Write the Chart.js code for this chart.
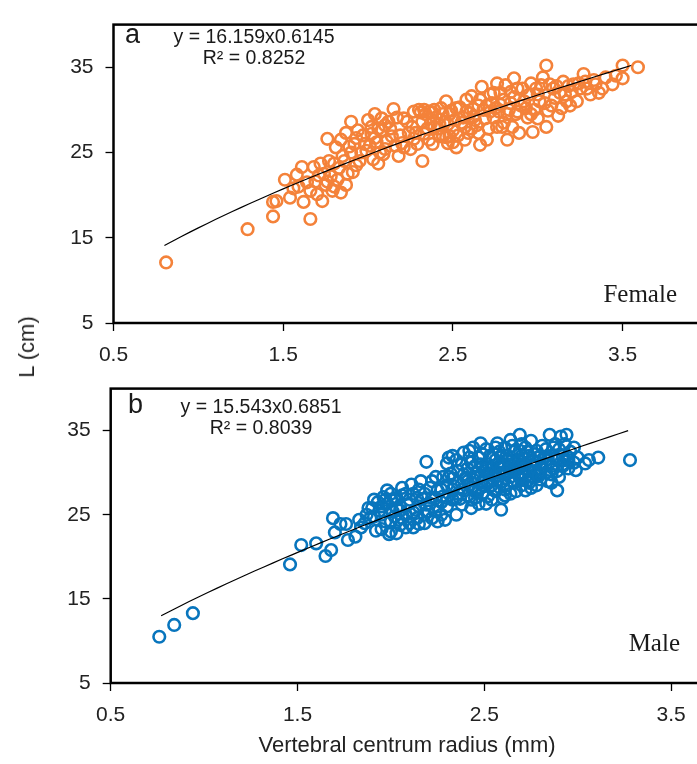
<!DOCTYPE html>
<html>
<head>
<meta charset="utf-8">
<script src="https://cdn.jsdelivr.net/npm/chart.js@4.4.1/dist/chart.umd.min.js"></script>
<style>
  html, body { margin: 0; padding: 0; background: #fff; }
  body { width: 697px; height: 764px; overflow: hidden; position: relative; font-family: "Liberation Sans", Arial, sans-serif; }
  .panel { position: absolute; left: 0; }
  #topPanel { top: 0; }
  #botPanel { top: 364px; }
  .ytitle { position: absolute; left: 27px; top: 347px; transform: translate(-50%, -50%) rotate(-90deg); font-size: 22px; color: #222; white-space: nowrap; }
  .xtitle { position: absolute; left: 407px; top: 745px; transform: translate(-50%, -50%); font-size: 22px; color: #222; white-space: nowrap; }
</style>
</head>
<body>
<canvas id="topPanel" class="panel" width="720" height="364"></canvas>
<canvas id="botPanel" class="panel" width="780" height="400"></canvas>
<div class="ytitle">L (cm)</div>
<div class="xtitle">Vertebral centrum radius (mm)</div>
<script>
// axis ticks
const xTicks = [0.5, 1.5, 2.5, 3.5];
const yTicks = [5, 15, 25, 35];

// power fits  y = a * x^b  (a, b)
const femaleFit = [16.159, 0.6145];
const maleFit = [15.543, 0.6851];
const femaleFitRange = [0.80, 3.55];
const maleFitRange = [0.77, 3.27];

// [radius mm, length cm]
const femalePoints = [
    [0.81, 12.1], [1.29, 16.0], [1.44, 17.5], [1.66, 17.2], [1.44, 19.2], [1.46, 19.3],
    [1.51, 21.8], [1.54, 19.7], [1.56, 20.8], [1.58, 22.4], [1.61, 23.3], [1.62, 19.2],
    [1.66, 20.5], [1.68, 23.3], [1.72, 23.7], [1.73, 19.3], [1.75, 21.2], [1.78, 22.2],
    [1.80, 23.7], [1.82, 21.8], [1.84, 20.3], [1.85, 24.6], [1.87, 21.2], [1.89, 25.7],
    [1.90, 28.6], [1.91, 22.7], [1.93, 26.7], [1.94, 27.6], [1.96, 25.0], [1.84, 26.5],
    [1.87, 27.3], [1.76, 21.6], [1.70, 20.1], [1.79, 20.5], [1.76, 26.6],
    [2.00, 28.8], [2.04, 29.5], [2.04, 26.7], [2.06, 23.7], [2.08, 27.6], [2.10, 25.4],
    [2.15, 30.1], [2.14, 26.9], [2.17, 29.1], [2.18, 24.6], [2.20, 26.1], [2.23, 28.6],
    [2.25, 25.4], [2.28, 27.3], [2.31, 29.7], [2.32, 24.0], [2.34, 29.5], [2.36, 26.5],
    [2.38, 29.7], [2.39, 28.0], [2.42, 26.9], [2.45, 28.6], [2.46, 31.0], [2.47, 26.1],
    [2.49, 29.9], [2.50, 27.6], [2.52, 25.6], [2.56, 29.1], [2.58, 31.2], [2.59, 27.3],
    [2.62, 30.1], [2.64, 28.2], [2.66, 25.9], [2.67, 32.7], [2.54, 30.3], [2.40, 29.1],
    [2.48, 26.9], [2.32, 28.6], [2.24, 27.3], [2.12, 28.6], [2.06, 27.8], [2.10, 28.2],
    [2.72, 31.8], [2.74, 29.1], [2.76, 33.1], [2.78, 30.6], [2.79, 28.0], [2.82, 26.5],
    [2.84, 32.1], [2.86, 33.7], [2.87, 29.5], [2.89, 27.3], [2.92, 31.0], [2.94, 29.1],
    [2.96, 33.1], [2.97, 27.4], [3.00, 31.8], [3.03, 33.8], [3.05, 35.2], [3.05, 28.0],
    [3.06, 29.9], [3.09, 32.5], [3.12, 29.3], [3.15, 33.3], [3.17, 31.0], [3.20, 32.1],
    [3.23, 31.0], [3.27, 34.2], [3.29, 32.5], [3.31, 31.8], [3.38, 32.5], [3.40, 33.8],
    [3.50, 35.2], [3.50, 33.7], [3.59, 35.0], [3.24, 33.1], [3.10, 31.4], [3.02, 32.9],
    [2.88, 32.5], [2.81, 32.9], [2.70, 30.5], [2.76, 28.0], [2.61, 31.6],
    [3.33, 33.5], [3.36, 32.0], [3.44, 33.0], [3.46, 34.0], [3.28, 33.3],
    [1.98, 26.0], [2.02, 27.2], [2.07, 25.0], [2.11, 26.3], [2.19, 27.0], [2.26, 28.0],
    [2.29, 26.0], [2.33, 27.2], [2.37, 28.4], [2.41, 27.8], [2.44, 29.5], [2.47, 28.3],
    [2.51, 28.8], [2.53, 27.0], [2.57, 28.0], [2.60, 29.6], [2.63, 28.8], [2.65, 30.5],
    [2.69, 29.0], [2.71, 27.8], [2.73, 30.8], [2.77, 29.8], [2.80, 31.2], [2.83, 30.0],
    [2.86, 31.5], [2.90, 30.5], [2.95, 31.8], [2.98, 30.0], [3.01, 31.0], [3.08, 30.5],
    [3.13, 32.0], [3.18, 32.8], [1.83, 23.2], [1.86, 24.0], [1.90, 25.0], [1.95, 24.0],
    [1.99, 25.2], [2.03, 24.2], [2.09, 24.8], [1.77, 24.0], [1.81, 25.6], [1.88, 22.5],
    [1.71, 22.3], [1.64, 21.5], [1.59, 21.0],
    [2.21, 29.0], [2.27, 29.8], [2.30, 30.0], [2.33, 30.0], [2.36, 29.8], [2.39, 30.0],
    [2.43, 30.2], [2.35, 27.8], [2.38, 26.0], [2.42, 28.3], [2.44, 27.0], [2.46, 26.8],
    [2.48, 29.5], [2.50, 26.2], [2.52, 30.2], [2.55, 28.5], [2.57, 26.5], [2.58, 29.8],
    [2.61, 27.8], [2.62, 29.2], [2.65, 27.3], [2.66, 31.2], [2.68, 30.0], [2.70, 26.5],
    [2.72, 29.8], [2.74, 32.0], [2.75, 30.2], [2.78, 32.0], [2.80, 28.5], [2.82, 29.5],
    [2.84, 30.8], [2.85, 28.0], [2.88, 29.8], [2.91, 32.5], [2.93, 30.2], [2.96, 29.5],
    [2.99, 32.5], [3.00, 29.0], [3.04, 30.8], [3.07, 33.0], [3.11, 32.8], [3.14, 30.2],
    [3.16, 31.8], [3.19, 30.5], [3.21, 33.0], [3.25, 32.5], [3.34, 33.0], [1.92, 26.0],
    [1.97, 27.0], [2.01, 25.8], [2.05, 26.2], [2.13, 27.8], [2.16, 25.8], [2.21, 25.6],
    [2.27, 26.6], [1.74, 22.5], [1.69, 21.6], [1.80, 21.0], [1.93, 23.5], [2.02, 28.0],
    [2.08, 29.0]
];

const malePoints = [
    [0.76, 10.5], [0.84, 11.9], [0.94, 13.3],
    [1.46, 19.1], [1.52, 21.4], [1.60, 21.6], [1.65, 20.1], [1.68, 20.8], [1.69, 24.6],
    [1.70, 22.9], [1.73, 23.9], [1.76, 23.9], [1.77, 22.0], [1.81, 22.4], [1.83, 24.4],
    [1.87, 25.0], [1.90, 25.8], [1.92, 23.1], [1.93, 26.5], [1.96, 27.1], [1.98, 27.9],
    [1.99, 22.7], [2.01, 25.4], [2.04, 24.4], [2.06, 27.3], [2.08, 23.5], [2.11, 28.6],
    [2.13, 25.6], [2.15, 23.9], [2.17, 26.9], [2.19, 31.3], [2.20, 25.4], [2.22, 24.6],
    [2.25, 27.9], [2.27, 26.5], [2.29, 24.4], [2.30, 31.1], [2.32, 29.9], [2.33, 32.0],
    [2.34, 28.4], [2.35, 25.0], [2.37, 26.9], [2.40, 29.4], [2.42, 32.6], [2.43, 25.8],
    [2.45, 27.9], [2.48, 33.5], [2.49, 30.7], [2.51, 26.3], [2.52, 28.8], [2.54, 31.8],
    [2.56, 33.0], [2.59, 25.6], [2.60, 29.9], [2.61, 27.3], [2.64, 33.9], [2.65, 31.5],
    [2.69, 34.5], [2.70, 33.4], [2.70, 29.2], [2.72, 27.9], [2.75, 30.9], [2.78, 32.6],
    [2.80, 29.9], [2.82, 31.8], [2.85, 34.5], [2.86, 28.8], [2.88, 33.4], [2.89, 27.9],
    [2.91, 34.3], [2.94, 34.5], [2.95, 31.5], [2.98, 33.0], [2.99, 30.3], [3.04, 31.1],
    [3.06, 31.5], [3.11, 31.8], [3.28, 31.5],
    [1.86, 24.0], [1.88, 25.8], [1.91, 24.8], [1.94, 25.5], [1.97, 24.2], [1.98, 26.3],
    [2.02, 26.8], [2.05, 25.5], [1.95, 23.3], [2.00, 23.0], [2.03, 22.8],
    [2.30, 27.0], [2.30, 28.5], [2.30, 26.0], [2.33, 28.0], [2.33, 29.3], [2.33, 26.8],
    [2.36, 27.5], [2.36, 30.2], [2.36, 28.8], [2.38, 26.2], [2.38, 28.0], [2.38, 31.0],
    [2.41, 27.3], [2.41, 29.0], [2.41, 30.5], [2.43, 28.2], [2.43, 31.2], [2.43, 26.8],
    [2.45, 29.5], [2.45, 30.8], [2.45, 27.0], [2.47, 28.0], [2.47, 31.8], [2.47, 26.3],
    [2.49, 29.0], [2.49, 27.5], [2.49, 32.2], [2.50, 30.2], [2.50, 28.4], [2.52, 31.0],
    [2.52, 27.2], [2.52, 29.8], [2.54, 28.5], [2.54, 30.5], [2.54, 26.8], [2.56, 29.5],
    [2.56, 31.5], [2.56, 27.8], [2.58, 30.0], [2.58, 28.3], [2.58, 32.5], [2.60, 31.0],
    [2.60, 29.0], [2.60, 27.0], [2.62, 30.0], [2.62, 32.0], [2.62, 28.5], [2.64, 31.0],
    [2.64, 29.5], [2.64, 27.5], [2.66, 30.5], [2.66, 32.5], [2.66, 28.8], [2.68, 31.5],
    [2.68, 29.8], [2.68, 30.8], [2.70, 32.0], [2.70, 28.5], [2.70, 30.0], [2.72, 31.0],
    [2.72, 33.0], [2.72, 29.5], [2.74, 30.2], [2.74, 32.0], [2.74, 28.8], [2.76, 31.5],
    [2.76, 29.5], [2.76, 30.8], [2.78, 30.0], [2.78, 31.2], [2.78, 28.5], [2.80, 32.0],
    [2.80, 30.5], [2.80, 29.2], [2.83, 31.0], [2.83, 30.0], [2.83, 32.8], [2.86, 30.8],
    [2.86, 32.0], [2.86, 29.8], [2.89, 31.5], [2.89, 30.2], [2.92, 32.0], [2.92, 30.8],
    [2.92, 31.0], [2.95, 31.8], [2.95, 30.5], [2.98, 31.2],
    [1.95, 25.0], [1.95, 26.0], [2.00, 26.8], [2.00, 24.2], [2.00, 27.5], [2.03, 25.8],
    [2.03, 27.0], [2.05, 23.8], [2.05, 26.0], [2.08, 27.5], [2.08, 25.0], [2.10, 24.0],
    [2.10, 26.8], [2.12, 27.5], [2.12, 25.3], [2.12, 23.5], [2.15, 26.0], [2.15, 28.0],
    [2.18, 25.0], [2.18, 27.5], [2.18, 24.0], [2.21, 26.3], [2.21, 28.2], [2.24, 25.5],
    [2.24, 27.0], [2.24, 29.5], [2.27, 28.0], [2.27, 25.0],
    [2.31, 29.5], [2.31, 31.8], [2.35, 31.5], [2.35, 27.0], [2.39, 29.8], [2.39, 32.4],
    [2.42, 28.5], [2.42, 31.8], [2.44, 33.0], [2.44, 29.2], [2.46, 30.0], [2.46, 27.6],
    [2.48, 31.0], [2.48, 29.6], [2.51, 32.8], [2.51, 30.5], [2.53, 29.0], [2.53, 32.0],
    [2.55, 30.0], [2.55, 28.0], [2.57, 31.0], [2.57, 33.5], [2.57, 29.0], [2.59, 32.0],
    [2.59, 30.5], [2.61, 33.0], [2.61, 28.0], [2.63, 30.5], [2.63, 31.5], [2.65, 29.0],
    [2.65, 33.2], [2.67, 31.2], [2.67, 27.8], [2.69, 32.6], [2.69, 29.5], [2.71, 31.0],
    [2.71, 30.5], [2.73, 32.5], [2.73, 29.0], [2.75, 33.8], [2.75, 28.2], [2.77, 32.2],
    [2.77, 30.2], [2.79, 31.8], [2.79, 29.6], [2.81, 30.8], [2.81, 33.2], [2.84, 31.6],
    [2.84, 29.0], [2.87, 33.0], [2.87, 30.5], [2.90, 32.8], [2.90, 29.5], [2.93, 33.4],
    [2.93, 31.5], [2.96, 32.5], [3.00, 31.8], [2.02, 24.8], [2.06, 28.2], [2.06, 24.6],
    [2.09, 26.2], [2.14, 27.0], [2.14, 24.6], [2.16, 29.0], [2.19, 26.2], [2.22, 27.0],
    [2.22, 29.0], [2.25, 26.0], [2.25, 24.2], [2.28, 29.5], [2.28, 27.2], [1.84, 23.5],
    [1.89, 24.6], [1.91, 26.8], [1.97, 26.8]
];

const fitCurve = (coef, range) => {
    const pts = [];
    for (let x = range[0]; x < range[1]; x += 0.05) {
        pts.push({ x: x, y: coef[0] * Math.pow(x, coef[1]) });
    }
    pts.push({ x: range[1], y: coef[0] * Math.pow(range[1], coef[1]) });
    return pts;
};

const tickFont = { family: '"Liberation Sans", Arial, sans-serif', size: 21 };

const framePlugin = {
    id: 'frame',
    afterDraw: (chart) => {
        const a = chart.chartArea;
        const ctx = chart.ctx;
        ctx.save();
        ctx.strokeStyle = '#000';
        ctx.lineWidth = 2.5;
        ctx.strokeRect(a.left, a.top, a.right - a.left, a.bottom - a.top);
        ctx.restore();
    }
};

const textPlugin = (t) => ({
    id: 'panelText',
    afterDraw: (chart) => {
        const ctx = chart.ctx;
        ctx.save();
        ctx.fillStyle = '#1a1a1a';
        ctx.textBaseline = 'alphabetic';
        ctx.textAlign = 'left';
        ctx.font = '27px "Liberation Sans", Arial, sans-serif';
        ctx.fillText(t.letter, t.letterX, t.eqY);
        ctx.textAlign = 'center';
        ctx.font = '19.5px "Liberation Sans", Arial, sans-serif';
        ctx.fillText(t.eq, t.eqX, t.eqY);
        ctx.fillText(t.r2, t.eqX, t.eqY + 21);
        ctx.textAlign = 'right';
        ctx.font = '25px "Liberation Serif", "Times New Roman", serif';
        ctx.fillText(t.sex, t.sexX, t.sexY);
        ctx.restore();
    }
});

function makePanel(id, points, fit, range, color, dims, labels) {
    return new Chart(document.getElementById(id), {
        type: 'scatter',
        data: {
            datasets: [
                {
                    type: 'line',
                    data: fitCurve(fit, range),
                    borderColor: '#000',
                    borderWidth: 1.2,
                    pointRadius: 0,
                    fill: false,
                    tension: 0
                },
                {
                    data: points.map(p => ({ x: p[0], y: p[1] })),
                    pointRadius: 5.8,
                    borderWidth: 2.6,
                    borderColor: color,
                    backgroundColor: 'rgba(255,255,255,0)'
                }
            ]
        },
        options: {
            responsive: false,
            animation: false,
            events: [],
            layout: { padding: { top: dims.top, right: dims.right, left: 0, bottom: 0 } },
            plugins: { legend: { display: false }, tooltip: { enabled: false } },
            scales: {
                x: {
                    type: 'linear',
                    min: 0.5,
                    max: 4.0,
                    afterBuildTicks: (s) => { s.ticks = xTicks.map(v => ({ value: v })); },
                    afterFit: (s) => { s.height = dims.xh; },
                    border: { display: false },
                    grid: { drawOnChartArea: false, drawTicks: true, tickLength: 8, tickWidth: 1.3, tickColor: '#000' },
                    ticks: { font: tickFont, color: '#222', padding: 12, maxRotation: 0, callback: (v) => v.toFixed(1) }
                },
                y: {
                    type: 'linear',
                    min: 5,
                    max: 40,
                    afterBuildTicks: (s) => { s.ticks = yTicks.map(v => ({ value: v })); },
                    afterFit: (s) => { s.width = dims.yw; },
                    border: { display: false },
                    grid: { drawOnChartArea: false, drawTicks: true, tickLength: 8, tickWidth: 1.3, tickColor: '#000' },
                    ticks: { font: tickFont, color: '#222', padding: 12 }
                }
            }
        },
        plugins: [framePlugin, textPlugin(labels)]
    });
}

makePanel('topPanel', femalePoints, femaleFit, femaleFitRange, '#f4823a',
    { top: 8, right: 12.5, xh: 41, yw: 113.5 },
    { letter: 'a', letterX: 125, eq: 'y = 16.159x0.6145', r2: 'R\u00b2 = 0.8252', eqX: 254, eqY: 43, sex: 'Female', sexX: 677, sexY: 302 });

makePanel('botPanel', malePoints, maleFit, maleFitRange, '#0875bd',
    { top: 8.7, right: 15.5, xh: 81, yw: 110.7 },
    { letter: 'b', letterX: 128, eq: 'y = 15.543x0.6851', r2: 'R\u00b2 = 0.8039', eqX: 261, eqY: 49, sex: 'Male', sexX: 680, sexY: 287 });
</script>
</body>
</html>
